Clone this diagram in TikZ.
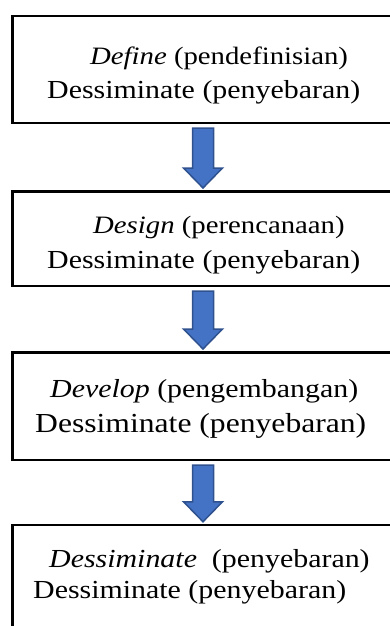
\documentclass[tikz,border=0pt]{standalone}
\usepackage{fontspec}
\setmainfont[FakeStretch=1.15]{Liberation Serif}
\usepackage{tikz}
\usetikzlibrary{calc}
\definecolor{arrowblue}{RGB}{68, 114, 196}
\definecolor{arrowedge}{RGB}{47, 82, 143}
\tikzstyle{stage} = [draw, line width=2.5pt, minimum width=381pt, inner sep=0pt]
\tikzstyle{txt} = [anchor=base west, inner sep=0pt, font=\fontsize{26}{30}\selectfont]
\tikzstyle{blockarrow} = [fill=arrowblue, draw=arrowedge, line width=1.5pt, line join=miter]
% block arrow from the bottom of one stage to the top of the next
\newcommand{\flowarrow}[2]{%
    \draw[blockarrow] ($(#1.south)+(-10.5,4)$) -- ($(#2.north)+(-10.5,-22)$)
        -- ($(#2.north)+(-19.5,-22)$) -- ($(#2.north)+(0,-2)$)
        -- ($(#2.north)+(19.5,-22)$) -- ($(#2.north)+(10.5,-22)$)
        -- ($(#1.south)+(10.5,4)$) -- cycle;}

\begin{document}
\begin{tikzpicture}[x=1pt, y=-1pt]
    \useasboundingbox (0,0) rectangle (390,626);
    \clip (0,0) rectangle (390,626);

    % Stages
    \node[stage, minimum height=106.5pt] (define) at (203, 69.5) {};
    \node[stage, minimum height=94.5pt] (design) at (203, 238.5) {};
    \node[stage, minimum height=107.5pt] (develop) at (203, 406) {};
    \node[stage, minimum height=150pt] (dessiminate) at (203, 600) {};

    % Texts
    \node[txt, font=\fontsize{25}{29}\selectfont] (define1) at (90, 65) {\textit{Define} (pendefinisian)};
    \node[txt] (define2) at (47, 98) {Dessiminate (penyebaran)};
    \node[txt, font=\fontsize{25}{29}\selectfont] (design1) at (93, 233) {\textit{Design} (perencanaan)};
    \node[txt] (design2) at (47, 268) {Dessiminate (penyebaran)};
    \node[txt] (develop1) at (50, 397) {\textit{Develop} (pengembangan)};
    \node[txt, font=\fontsize{27.5}{31}\selectfont] (develop2) at (35, 432) {Dessiminate (penyebaran)};
    \node[txt] (dessiminate1) at (49, 567) {\textit{Dessiminate}\ \ (penyebaran)};
    \node[txt] (dessiminate2) at (33, 598) {Dessiminate (penyebaran)};

    % Arrows
    \flowarrow{define}{design}
    \flowarrow{design}{develop}
    \flowarrow{develop}{dessiminate}
\end{tikzpicture}
\end{document}
